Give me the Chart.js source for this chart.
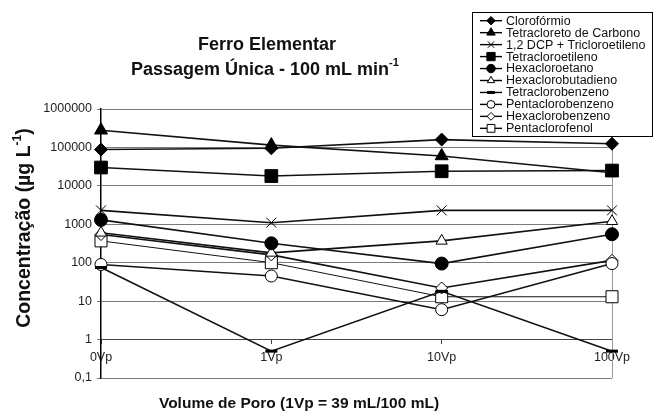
<!DOCTYPE html>
<html>
<head>
<meta charset="utf-8">
<script src="https://cdn.jsdelivr.net/npm/chart.js@4.4.1/dist/chart.umd.min.js"></script>
<style>
  html, body { margin: 0; padding: 0; background: #fff; }
</style>
</head>
<body>
<canvas id="grafico" width="653" height="414"></canvas>
<script>
// volumes de poro (eixo x)
var volumes = ['0Vp', '1Vp', '10Vp', '100Vp'];

// concentracoes em ug/L
var cloroformio = [88000, 95000, 160000, 125000];
var tetracloretoCarbono = [280000, 115000, 60000, 22000];
var dcpTricloroetileno = [2300, 1100, 2300, 2300];
var tetracloroetileno = [30000, 18000, 24000, 25000];
var hexacloroetano = [1300, 320, 95, 550];
var hexaclorobutadieno = [600, 180, 370, 1200];
var tetraclorobenzeno = [75, 0.5, 18, 0.5];
var pentaclorobenzeno = [90, 45, 6, 95];
var hexaclorobenzeno = [540, 160, 22, 115];
var pentaclorofenol = [370, 100, 13, 13];

// ticks do eixo y
var yTicks = [0.1, 1, 10, 100, 1000, 10000, 100000, 1000000];
var yTickLabels = ['0,1', '1', '10', '100', '1000', '10000', '100000', '1000000'];

var fonte = '"Liberation Sans", Arial, Helvetica, sans-serif';

function serie(label, data, estilo, raio, fundo, borda, linha) {
    return {
        label: label,
        data: data,
        borderColor: '#111',
        borderWidth: linha || 1.6,
        pointStyle: estilo,
        pointRadius: raio,
        pointBackgroundColor: fundo,
        pointBorderColor: '#000',
        pointBorderWidth: borda,
        pointHoverRadius: raio,
        tension: 0,
        fill: false,
        clip: false
    };
}

var datasets = [
    serie('Clorofórmio', cloroformio, 'rectRot', 6.5, '#000', 1),
    serie('Tetracloreto de Carbono', tetracloretoCarbono, 'triangle', 7.5, '#000', 1),
    serie('1,2 DCP + Tricloroetileno', dcpTricloroetileno, 'crossRot', 7, '#000', 1),
    serie('Tetracloroetileno', tetracloroetileno, 'rect', 9, '#000', 1),
    serie('Hexacloroetano', hexacloroetano, 'circle', 6.5, '#000', 1),
    serie('Hexaclorobutadieno', hexaclorobutadieno, 'triangle', 6.5, '#fff', 1),
    serie('Tetraclorobenzeno', tetraclorobenzeno, 'line', 6, '#000', 3),
    serie('Pentaclorobenzeno', pentaclorobenzeno, 'circle', 6, '#fff', 1),
    serie('Hexaclorobenzeno', hexaclorobenzeno, 'rectRot', 6, '#fff', 1),
    serie('Pentaclorofenol', pentaclorofenol, 'rect', 8.5, '#fff', 1, 1)
];

// desenha texto com partes sobrescritas, centrado em cx
function textoComExpoente(c, partes, cx, cy, tamanho) {
    var total = 0;
    partes.forEach(function (p) {
        c.font = 'bold ' + (p[1] ? tamanho * 0.62 : tamanho) + 'px ' + fonte;
        total += c.measureText(p[0]).width;
    });
    var x = cx - total / 2;
    c.textAlign = 'left';
    c.textBaseline = 'middle';
    partes.forEach(function (p) {
        c.font = 'bold ' + (p[1] ? tamanho * 0.62 : tamanho) + 'px ' + fonte;
        c.fillText(p[0], x, p[1] ? cy - tamanho * 0.38 : cy);
        x += c.measureText(p[0]).width;
    });
}

var bordaDireita = {
    id: 'bordaDireita',
    beforeDatasetsDraw: function (chart) {
        var c = chart.ctx, a = chart.chartArea;
        c.save();
        c.strokeStyle = '#9a9a9a';
        c.lineWidth = 1;
        c.beginPath();
        c.moveTo(Math.round(a.right) + 0.5, a.top);
        c.lineTo(Math.round(a.right) + 0.5, a.bottom);
        c.stroke();
        c.restore();
    }
};

var textos = {
    id: 'textos',
    afterDraw: function (chart) {
        var c = chart.ctx;
        c.save();
        c.fillStyle = '#111';

        textoComExpoente(c, [['Ferro Elementar', false]], 267, 45, 18);
        textoComExpoente(c, [['Passagem Única - 100 mL min', false], ['-1', true]], 265, 70, 18);
        textoComExpoente(c, [['Volume de Poro (1Vp = 39 mL/100 mL)', false]], 299, 404, 15.5);

        c.save();
        c.translate(25, 228);
        c.rotate(-Math.PI / 2);
        textoComExpoente(c, [['Concentração (µg L', false], ['-1', true], [')', false]], 0, 0, 19.5);
        c.restore();

        // legenda
        var lx = 472.5, ly = 12.5, lw = 180, lh = 124;
        c.fillStyle = '#fff';
        c.fillRect(lx, ly, lw, lh);
        c.strokeStyle = '#000';
        c.lineWidth = 1;
        c.strokeRect(lx, ly, lw, lh);

        chart.data.datasets.forEach(function (ds, i) {
            var y = 20.7 + i * 11.96;
            c.strokeStyle = '#000';
            c.lineWidth = 1.4;
            c.beginPath();
            c.moveTo(480, y);
            c.lineTo(502, y);
            c.stroke();
            c.fillStyle = ds.pointBackgroundColor;
            c.lineWidth = ds.pointBorderWidth;
            Chart.helpers.drawPoint(c, {
                pointStyle: ds.pointStyle,
                radius: ds.pointRadius * 0.65,
                rotation: 0,
                borderWidth: ds.pointBorderWidth
            }, 491, y);
            c.fillStyle = '#111';
            c.font = '12.5px ' + fonte;
            c.textAlign = 'left';
            c.textBaseline = 'middle';
            c.fillText(ds.label, 506, y + 0.5);
        });
        c.restore();
    }
};

var ctx = document.getElementById('grafico').getContext('2d');

var grafico = new Chart(ctx, {
    type: 'line',
    data: {
        labels: volumes,
        datasets: datasets
    },
    options: {
        responsive: false,
        animation: false,
        devicePixelRatio: 1,
        layout: { padding: { top: 109, right: 41, bottom: 36, left: 0 } },
        plugins: {
            legend: { display: false },
            title: { display: false },
            tooltip: { enabled: false }
        },
        scales: {
            x: {
                type: 'category',
                position: { y: 1 },
                offset: false,
                grid: { display: true, drawOnChartArea: false, drawTicks: true, tickLength: 4, color: '#444' },
                border: { display: true, color: '#444', width: 1 },
                ticks: {
                    color: '#222',
                    font: { family: fonte, size: 12.5 },
                    padding: 6,
                    maxRotation: 0,
                    autoSkip: false
                },
                afterFit: function (s) { s.height = 0; }
            },
            y: {
                type: 'logarithmic',
                min: 0.1,
                max: 1000000,
                afterBuildTicks: function (s) {
                    s.ticks = yTicks.map(function (v) { return { value: v }; });
                },
                ticks: {
                    color: '#222',
                    font: { family: fonte, size: 12.5 },
                    padding: 5,
                    callback: function (v) {
                        var i = yTicks.indexOf(v);
                        return i >= 0 ? yTickLabels[i] : '';
                    }
                },
                grid: { color: '#7a7a7a', lineWidth: 1, tickLength: 4 },
                border: { display: true, color: '#000', width: 1.5 },
                afterFit: function (s) { s.width = 101; }
            }
        }
    },
    plugins: [bordaDireita, textos]
});
</script>
</body>
</html>
